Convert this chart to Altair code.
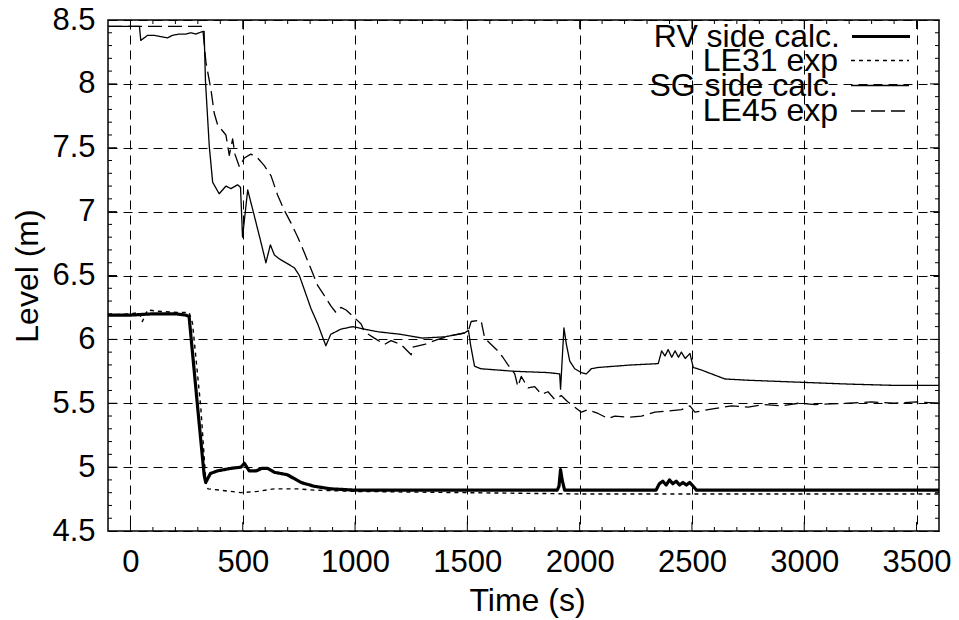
import altair as alt
import pandas as pd

FONT = "Liberation Sans"

SERIES = ["RV side calc.", "LE31 exp", "SG side calc.", "LE45 exp"]
DASHES = {"RV side calc.": [1, 0], "LE31 exp": [4, 4], "SG side calc.": [1, 0], "LE45 exp": [14, 6]}
WIDTHS = {"RV side calc.": 3.2, "LE31 exp": 1.4, "SG side calc.": 1.3, "LE45 exp": 1.3}

RV_T = [-100, 0, 100, 200, 246, 261, 299, 328, 335, 356, 386, 446, 492, 507, 529, 559, 585, 611,
        640, 699, 759, 818, 892, 1000, 1500, 1900, 1908, 1915, 1922, 1933, 1950, 2300, 2340,
        2355, 2370, 2385, 2400, 2415, 2430, 2445, 2460, 2475, 2490, 2506, 2520, 3000, 3600]
RV_V = [6.19, 6.19, 6.20, 6.20, 6.19, 6.18, 5.47, 4.94, 4.88, 4.95, 4.97, 4.99, 5.00, 5.03, 4.97,
        4.97, 4.99, 4.99, 4.96, 4.94, 4.88, 4.85, 4.83, 4.82, 4.82, 4.82, 4.85, 4.98, 4.90, 4.82,
        4.82, 4.82, 4.82, 4.87, 4.89, 4.86, 4.90, 4.87, 4.89, 4.86, 4.88, 4.86, 4.88, 4.85, 4.82,
        4.82, 4.82]

LE31_T = [-100, 0, 40, 53, 76, 120, 209, 261, 276, 313, 336, 345, 447, 492, 566, 640, 745, 818,
          1000, 1500, 2000, 2500, 3000, 3600]
LE31_V = [6.19, 6.20, 6.21, 6.14, 6.23, 6.22, 6.21, 6.21, 6.13, 5.47, 4.88, 4.83, 4.81, 4.80, 4.81,
          4.83, 4.83, 4.82, 4.81, 4.80, 4.79, 4.79, 4.79, 4.79]

SG_T = [-100, 40, 46, 76, 105, 135, 165, 187, 217, 246, 269, 291, 321, 328, 334, 351, 366, 395,
        425, 447, 477, 490, 499, 522, 551, 581, 603, 623, 641, 663, 692, 730, 752, 774, 804, 834,
        855, 870, 892, 937, 990, 1042, 1100, 1200, 1300, 1400, 1487, 1505, 1515, 1532, 1560, 1711,
        1859, 1911, 1915, 1930, 1941, 1956, 1978, 2008, 2030, 2052, 2082, 2231, 2350, 2365, 2380,
        2394, 2410, 2425, 2440, 2453, 2470, 2491, 2506, 2543, 2572, 2647, 2751, 2899, 3048, 3197,
        3400, 3600]
SG_V = [8.45, 8.45, 8.34, 8.38, 8.38, 8.37, 8.36, 8.38, 8.39, 8.39, 8.40, 8.39, 8.41, 8.41, 8.02,
        7.51, 7.23, 7.14, 7.20, 7.18, 7.21, 7.19, 6.80, 7.17, 6.97, 6.76, 6.60, 6.74, 6.66, 6.63,
        6.60, 6.56, 6.50, 6.39, 6.24, 6.12, 6.02, 5.95, 6.04, 6.08, 6.10, 6.08, 6.06, 6.04, 6.01,
        6.02, 6.05, 6.07, 5.95, 5.79, 5.77, 5.75, 5.74, 5.73, 5.61, 6.09, 5.96, 5.83, 5.77, 5.74,
        5.73, 5.77, 5.78, 5.80, 5.81, 5.91, 5.87, 5.92, 5.86, 5.91, 5.86, 5.90, 5.85, 5.89, 5.78,
        5.76, 5.74, 5.69, 5.68, 5.67, 5.66, 5.65, 5.64, 5.64]

LE45_T = [-100, 321, 336, 358, 373, 388, 425, 440, 455, 465, 485, 507, 536, 566, 596, 626, 655,
          685, 715, 745, 774, 804, 834, 864, 893, 915, 937, 960, 997, 1027, 1042, 1086, 1131, 1160,
          1205, 1250, 1257, 1309, 1369, 1428, 1487, 1505, 1517, 1561, 1577, 1606, 1636, 1658, 1681,
          1711, 1725, 1740, 1770, 1800, 1830, 1859, 1889, 1918, 1948, 1978, 2008, 2037, 2082, 2127,
          2157, 2216, 2275, 2335, 2394, 2453, 2491, 2513, 2572, 2676, 2750, 2825, 2900, 2974, 3050,
          3197, 3300, 3400, 3500, 3600]
LE45_V = [8.45, 8.45, 8.17, 7.96, 7.77, 7.68, 7.60, 7.44, 7.57, 7.45, 7.35, 7.42, 7.45, 7.42, 7.36,
          7.28, 7.13, 7.01, 6.91, 6.80, 6.68, 6.55, 6.42, 6.34, 6.26, 6.21, 6.25, 6.23, 6.17, 6.12,
          6.06, 6.01, 5.96, 5.99, 5.96, 5.88, 5.94, 5.96, 6.00, 6.03, 6.05, 6.07, 6.14, 6.15, 6.01,
          5.96, 5.91, 5.86, 5.80, 5.73, 5.63, 5.71, 5.62, 5.63, 5.57, 5.59, 5.53, 5.56, 5.51, 5.47,
          5.43, 5.45, 5.42, 5.38, 5.40, 5.39, 5.40, 5.43, 5.44, 5.45, 5.48, 5.43, 5.45, 5.48, 5.47,
          5.49, 5.48, 5.50, 5.49, 5.50, 5.51, 5.50, 5.51, 5.50]

X_DOMAIN = [-100, 3600]
Y_DOMAIN = [4.5, 8.5]
X_LABELS = [0, 500, 1000, 1500, 2000, 2500, 3000, 3500]
Y_LABELS = [4.5, 5.0, 5.5, 6.0, 6.5, 7.0, 7.5, 8.0, 8.5]
X_MINOR = list(range(0, 3501, 100))
Y_MINOR = [round(4.6 + 0.1 * i, 1) for i in range(39)]

rows = []
for name, ts, vs in [("LE45 exp", LE45_T, LE45_V), ("SG side calc.", SG_T, SG_V),
                     ("LE31 exp", LE31_T, LE31_V), ("RV side calc.", RV_T, RV_V)]:
    for t, v in zip(ts, vs):
        rows.append({"series": name, "t": t, "level": v})
df = pd.DataFrame(rows)

W, H = 831, 511
xs = alt.Scale(domain=X_DOMAIN, nice=False, zero=False)
ys = alt.Scale(domain=Y_DOMAIN, nice=False, zero=False)

# inward tick marks along the frame: lengths given as fractions of the axis span
X_SPAN = X_DOMAIN[1] - X_DOMAIN[0]
Y_SPAN = Y_DOMAIN[1] - Y_DOMAIN[0]
MAJOR_FRAC_X, MINOR_FRAC_X = 9 / H, 4 / H      # vertical ticks on bottom / top edges
MAJOR_FRAC_Y, MINOR_FRAC_Y = 9 / W, 4 / W      # horizontal ticks on left / right edges
tick_rows = []
for t in X_MINOR:
    f = MAJOR_FRAC_X if t % 500 == 0 else MINOR_FRAC_X
    tick_rows.append({"t": t, "t2": t, "level": Y_DOMAIN[0], "level2": Y_DOMAIN[0] + f * Y_SPAN})
    tick_rows.append({"t": t, "t2": t, "level": Y_DOMAIN[1], "level2": Y_DOMAIN[1] - f * Y_SPAN})
for v in Y_MINOR:
    f = MAJOR_FRAC_Y if abs(v * 2 - round(v * 2)) < 1e-6 else MINOR_FRAC_Y
    tick_rows.append({"t": X_DOMAIN[0], "t2": X_DOMAIN[0] + f * X_SPAN, "level": v, "level2": v})
    tick_rows.append({"t": X_DOMAIN[1], "t2": X_DOMAIN[1] - f * X_SPAN, "level": v, "level2": v})
ticks = pd.DataFrame(tick_rows)

# one single-entry legend per series, stacked as in a gnuplot key (label left of sample)
LEG_X = 742
LEG_Y = [-14.5, 10.5, 35.5, 61]


def key(i, **extra):
    return alt.Legend(title=None, orient="none", legendX=LEG_X, legendY=LEG_Y[i],
                      values=[SERIES[i]], labelFont=FONT, labelFontSize=32, labelColor="black",
                      labelAlign="right", labelOffset={"expr": "-72"}, labelLimit=500,
                      symbolSize=3364, symbolType="stroke", padding=0,
                      symbolStrokeColor="black", **extra)


def rotated(k):
    return SERIES[k:] + SERIES[:k]


main_x = alt.Axis(orient="bottom", values=X_LABELS, grid=True, gridDash=[9, 6], gridColor="black",
                  gridWidth=1, gridOpacity=1, ticks=False, domain=False, labelFont=FONT,
                  labelFontSize=31, labelColor="black", labelPadding=16, labelFlush=False,
                  labelOverlap=False, labelExpr="'' + datum.value",
                  title="Time (s)", titleFont=FONT, titleFontSize=32, titleFontWeight="normal",
                  titleColor="black", titleBaseline="alphabetic", titleY=79, titleX=419,
                  titleAlign="center")
main_y = alt.Axis(orient="left", values=Y_LABELS, grid=True, gridDash=[9, 6], gridColor="black",
                  gridWidth=1, gridOpacity=1, ticks=False, domain=False, labelFont=FONT,
                  labelFontSize=31, labelColor="black", labelPadding=13, labelFlush=False,
                  labelOverlap=False, labelExpr="'' + datum.value",
                  title="Level (m)", titleFont=FONT, titleFontSize=32, titleFontWeight="normal",
                  titleColor="black", titleAngle=270, titleBaseline="alphabetic", titleX=-71,
                  titleY=H / 2, titleAlign="center")

dash_order = rotated(1)
width_order = rotated(2)
op_order = rotated(3)

lines = alt.Chart(df).mark_line(strokeJoin="round", strokeCap="butt").encode(
    x=alt.X("t:Q", scale=xs, axis=main_x),
    y=alt.Y("level:Q", scale=ys, axis=main_y),
    color=alt.Color("series:N", scale=alt.Scale(domain=SERIES, range=["black"] * 4),
                    legend=key(0, symbolStrokeWidth=3.2)),
    strokeDash=alt.StrokeDash("series:N",
                              scale=alt.Scale(domain=dash_order, range=[DASHES[s] for s in dash_order]),
                              legend=key(1, symbolStrokeWidth=1.4)),
    strokeWidth=alt.StrokeWidth("series:N",
                                scale=alt.Scale(type="ordinal", domain=width_order,
                                                range=[WIDTHS[s] for s in width_order]),
                                legend=key(2)),
    opacity=alt.Opacity("series:N", scale=alt.Scale(type="ordinal", domain=op_order,
                                                    range=[1, 1, 1, 1]),
                        legend=key(3, symbolStrokeWidth=1.3, symbolDash=[14, 6])),
)

tick_layer = alt.Chart(ticks).mark_rule(color="black", strokeWidth=1).encode(
    x=alt.X("t:Q", scale=xs, axis=main_x),
    x2="t2:Q",
    y=alt.Y("level:Q", scale=ys, axis=main_y),
    y2="level2:Q",
)

chart = alt.layer(lines, tick_layer).properties(
    width=W, height=H, autosize=alt.AutoSizeParams(type="none"),
    padding={"left": 108, "top": 20, "right": 20, "bottom": 89},
    background="white",
).configure_view(stroke="black", strokeWidth=1.5)

chart.save("out.html", embed_options={"renderer": "svg", "actions": False})
